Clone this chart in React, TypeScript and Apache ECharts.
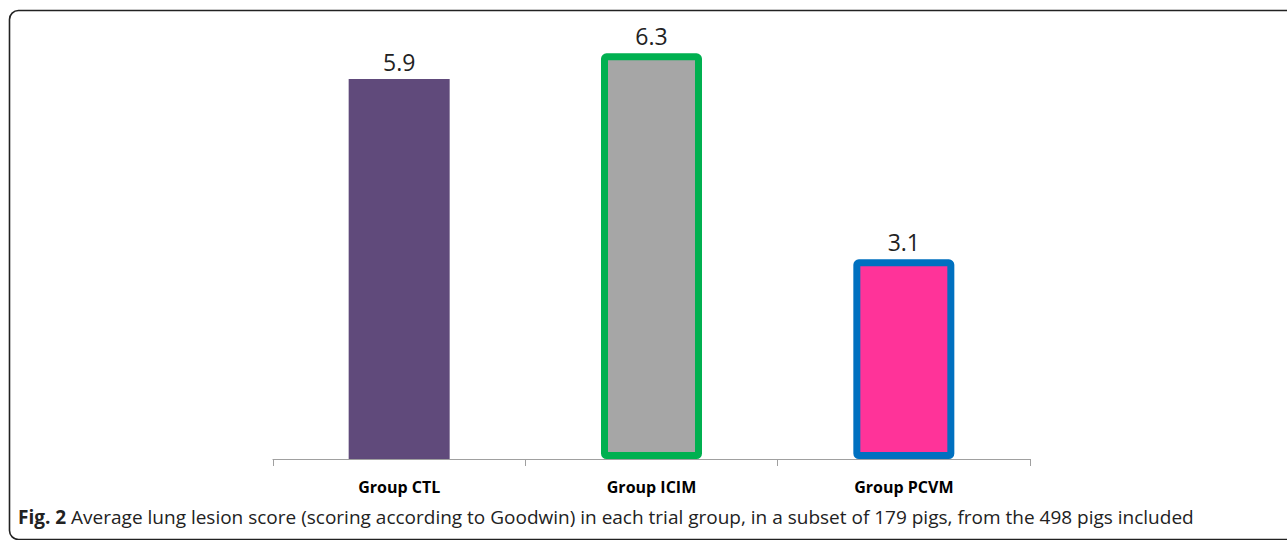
import React, { useEffect, useRef } from "react";
import * as echarts from "echarts";

const categories = ["Group CTL", "Group ICIM", "Group PCVM"];
const values = [5.9, 6.3, 3.1];
const fillColors = ["#604a7b", "#a6a6a6", "#ff3399"];
const borderColors = ["#604a7b", "#00b050", "#0070c0"];
const borderWidths = [0, 7, 7];
const captionBold = "Fig. 2";
const captionText =
  " Average lung lesion score (scoring according to Goodwin) in each trial group, in a subset of 179 pigs, from the 498 pigs included";

export default function App() {
  const ref = useRef<HTMLDivElement>(null);
  useEffect(() => {
    if (!ref.current) return;
    const chart = echarts.init(ref.current, null, { renderer: "svg" });
    const font = "'Open Sans', 'Noto Sans', sans-serif";
    chart.setOption({
      animation: false,
      backgroundColor: "#ffffff",
      grid: { left: 273, right: 257, top: 8.2, bottom: 81 },
      xAxis: {
        type: "category",
        data: categories,
        z: 5,
        axisLine: { lineStyle: { color: "#a0a0a0", width: 1.2 } },
        axisTick: { show: true, length: 7, lineStyle: { color: "#a0a0a0" } },
        axisLabel: {
          margin: 20,
          fontFamily: font,
          fontWeight: "bold",
          fontSize: 16,
          color: "#000",
        },
      },
      yAxis: {
        type: "value",
        min: 0,
        max: 7,
        show: false,
        splitLine: { show: false },
      },
      series: [
        {
          type: "bar",
          barWidth: 101,
          data: values.map((v, i) => ({
            value: v,
            itemStyle: {
              color: fillColors[i],
              borderColor: borderColors[i],
              borderWidth: borderWidths[i],
              borderRadius: borderWidths[i] ? 2 : 0,
            },
          })),
          label: {
            show: true,
            position: "top",
            distance: 6,
            fontFamily: font,
            fontSize: 23,
            color: "#222",
            formatter: (p: any) => p.value.toFixed(1),
          },
        },
      ],
      graphic: [
        {
          type: "rect",
          shape: { x: 9.5, y: 10.5, width: 1400, height: 529, r: 9 },
          style: { fill: "none", stroke: "#222", lineWidth: 1.6 },
          silent: true,
        },
        {
          type: "text",
          x: 18,
          y: 517,
          style: {
            text: `{b|${captionBold}}{n|${captionText}}`,
            verticalAlign: "middle",
            rich: {
              b: { fontFamily: font, fontWeight: "bold", fontSize: 19, fill: "#222" },
              n: { fontFamily: font, fontSize: 19, fill: "#222" },
            },
          },
        },
      ],
    });
    return () => chart.dispose();
  }, []);
  return (
    <div
      ref={ref}
      style={{ position: "fixed", left: 0, top: 0, width: 1287, height: 540 }}
    />
  );
}
